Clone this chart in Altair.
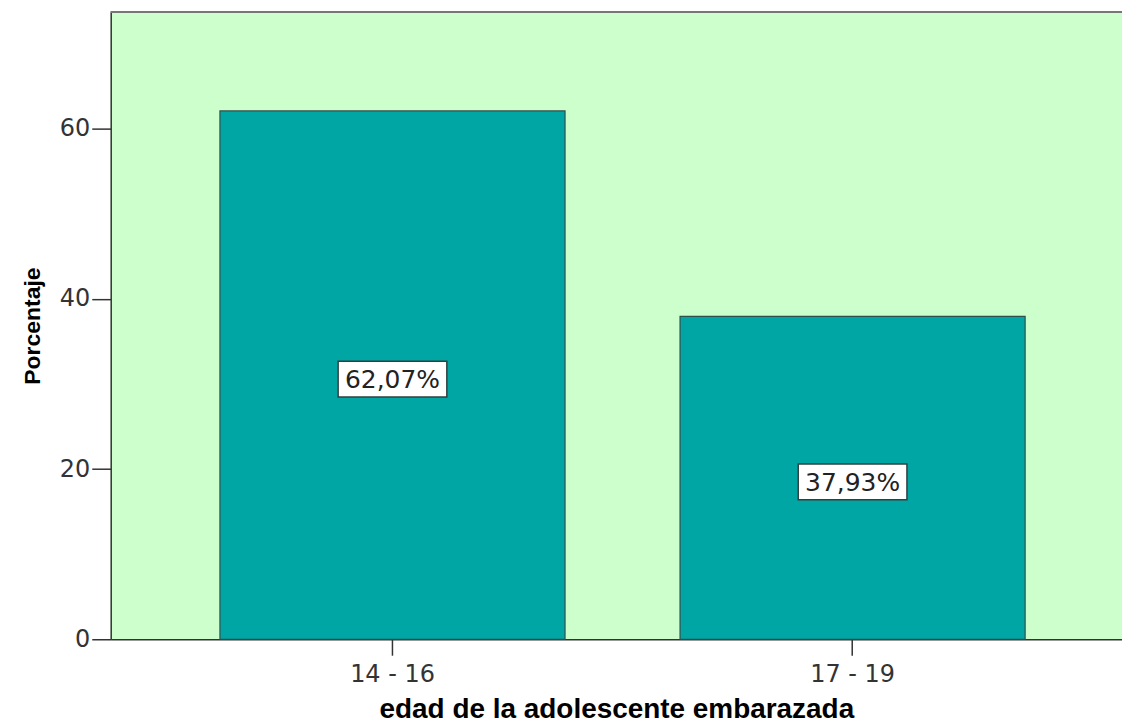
import altair as alt
import pandas as pd

# Age groups and their share of pregnant adolescents (%)
grupos = ["14 - 16", "17 - 19"]
porcentajes = [62.07, 37.93]
etiquetas = ["62,07%", "37,93%"]

df = pd.DataFrame({"grupo": grupos, "pct": porcentajes, "etiqueta": etiquetas})
df["mitad"] = df["pct"] / 2

TICK_FONT = "DejaVu Sans"
TITLE_FONT = "Liberation Sans"
PLOT_W = 1014
PLOT_H = 629

x_enc = alt.X(
    "grupo:N",
    title="edad de la adolescente embarazada",
    sort=grupos,
    scale=alt.Scale(paddingInner=0.25, paddingOuter=0.224, align=0.53),
    axis=alt.Axis(
        labelAngle=0,
        labelFontSize=24,
        labelColor="#333333",
        labelFont=TICK_FONT,
        labelPadding=7,
        tickSize=16,
        tickColor="#333333",
        tickWidth=1.5,
        domainColor="#333333",
        domainWidth=1.5,
        titleFont=TITLE_FONT,
        titleFontSize=28,
        titleFontWeight="bold",
        titleColor="#000000",
        titlePadding=9,
    ),
)

y_axis = alt.Axis(
    values=[0, 20, 40, 60],
    grid=False,
    labelFontSize=24,
    labelColor="#333333",
    labelFont=TICK_FONT,
    labelPadding=2,
    tickSize=19,
    tickColor="#333333",
    tickWidth=1.5,
    domainColor="#333333",
    domainWidth=1.5,
    titleFont=TITLE_FONT,
    titleFontSize=23,
    titleFontWeight="bold",
    titleColor="#000000",
    titlePadding=15,
)

bars = alt.Chart(df).mark_bar(
    color="#00A6A3", stroke="#2F4F4F", strokeWidth=1.2
).encode(
    x=x_enc,
    y=alt.Y("pct:Q", title="Porcentaje", scale=alt.Scale(domain=[0, 73.7], nice=False), axis=y_axis),
)

# White label boxes a little below half-way up each bar
cajas = alt.Chart(df).mark_point(
    shape="M-1,-0.33L1,-0.33L1,0.33L-1,0.33Z",
    size=11881,
    filled=True,
    fill="#FFFFFF",
    stroke="#2F4040",
    strokeWidth=1.5,
    opacity=1,
    yOffset=4,
).encode(x=alt.X("grupo:N", sort=grupos), y="mitad:Q")

textos = alt.Chart(df).mark_text(
    font=TICK_FONT, fontSize=25, color="#222222", baseline="middle", dy=5
).encode(x=alt.X("grupo:N", sort=grupos), y="mitad:Q", text="etiqueta:N")

# Frame line along the top of the plot area
borde = alt.Chart(df).mark_rule(color="#777777", strokeWidth=2).encode(
    x=alt.value(0), x2=alt.value(PLOT_W), y=alt.value(0)
)

chart = (
    alt.layer(bars, cajas, textos, borde)
    .properties(
        width=PLOT_W,
        height=PLOT_H,
        autosize=alt.AutoSizeParams(type="none"),
        padding={"left": 111, "top": 11, "right": 0, "bottom": 84},
        background="#FFFFFF",
    )
    .configure_view(fill="#CCFFCC", strokeWidth=0)
)

chart.save("out.html", embed_options={"renderer": "svg", "actions": False})
